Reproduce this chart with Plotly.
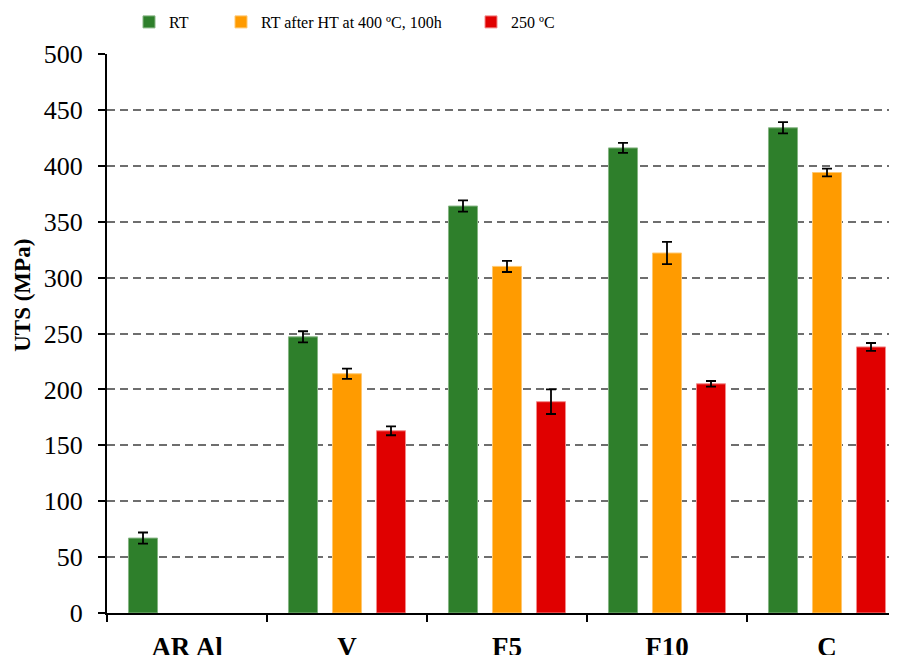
import plotly.graph_objects as go

categories = ["AR Al", "V", "F5", "F10", "C"]
series_names = ["RT", "RT after HT at 400 ºC, 100h", "250 ºC"]
rt = [67, 247, 364, 416, 434]
rt_err = [5, 5, 5, 4.5, 5]
rt_ht = [None, 214, 310, 322, 394]
rt_ht_err = [None, 4.5, 5, 10, 3.5]
t250 = [None, 163, 189, 205, 238]
t250_err = [None, 4, 11, 2.5, 3.5]
y_ticks = [0, 50, 100, 150, 200, 250, 300, 350, 400, 450, 500]

colors = ["#2E7F2B", "#FF9B00", "#E00000"]
outlines = ["#86B583", "#FFC870", "#F28A8A"]
serif = "Liberation Serif, Times New Roman, serif"

# page has an 8px body margin; figure sized to fill the rest of the 897x655 window
W, H = 889, 647
ML, MR, MT, MB = 99, 0, 46, 41.5

fig = go.Figure()
vals = [rt, rt_ht, t250]
errs = [rt_err, rt_ht_err, t250_err]
legends = ["legend", "legend2", "legend3"]
for i in range(3):
    fig.add_trace(go.Bar(
        x=categories, y=vals[i], name=series_names[i],
        marker=dict(color=colors[i], line=dict(color=outlines[i], width=1)),
        error_y=dict(type="data", array=errs[i], visible=True,
                     color="black", thickness=1.8, width=5),
        legend=legends[i],
    ))

plot_w = W - ML - MR
plot_h = H - MT - MB
xmax = -0.5 + plot_w / 160.0

fig.update_layout(
    width=W, height=H,
    margin=dict(l=ML, r=MR, t=MT, b=MB, autoexpand=False),
    paper_bgcolor="white", plot_bgcolor="white",
    barmode="group", bargap=0.175, bargroupgap=0.34,
    font=dict(family=serif, color="black"),
    showlegend=True,
)

leg_common = dict(orientation="h", xref="container", yref="container",
                  yanchor="middle", xanchor="left", y=1 - 14 / H,
                  font=dict(family=serif, size=16, color="black"),
                  bgcolor="rgba(0,0,0,0)", itemwidth=30)
fig.update_layout(
    legend=dict(x=121 / W, **leg_common),
    legend2=dict(x=213 / W, **leg_common),
    legend3=dict(x=463 / W, **leg_common),
)

fig.update_xaxes(
    range=[-0.5, xmax],
    showline=True, linecolor="black", linewidth=2,
    ticks="outside", tickson="boundaries", ticklen=7, tickwidth=2, tickcolor="black",
    tickfont=dict(family=serif, size=27, color="black", weight="bold"),
    showgrid=False, zeroline=False,
    ticklabelstandoff=9,
)
fig.update_yaxes(
    range=[0, 500], tickvals=y_ticks,
    showline=True, linecolor="black", linewidth=2,
    ticks="outside", ticklen=7, tickwidth=2, tickcolor="black",
    tickfont=dict(family=serif, size=26, color="black"),
    showgrid=True, gridcolor="#6e6e6e", gridwidth=1.5, griddash="8px,5px",
    zeroline=False, ticklabelstandoff=10,
)

fig.add_annotation(
    text="<b>UTS (MPa)</b>", textangle=-90, showarrow=False,
    xref="paper", yref="paper",
    x=(15 - ML) / plot_w, y=(H - MB - 288) / plot_h,
    xanchor="center", yanchor="middle",
    font=dict(family=serif, size=23, color="black"),
)

fig.write_html("out.html")
